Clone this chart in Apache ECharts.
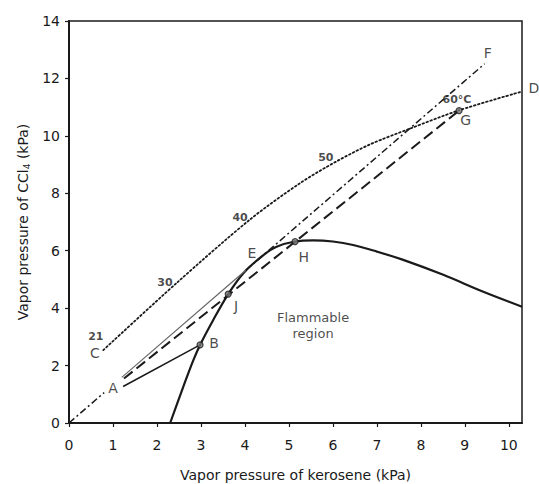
<!DOCTYPE html>
<html>
<head>
<meta charset="utf-8">
<script src="https://cdn.jsdelivr.net/npm/echarts@6/dist/echarts.min.js"></script>
<style>
html,body{margin:0;padding:0;background:#fff;}
#chart{width:539px;height:484px;}
</style>
</head>
<body>
<div id="chart"></div>
<script>
// ---- Data (kPa) ----
const xTicks = [0,1,2,3,4,5,6,7,8,9,10];
const yTicks = [0,2,4,6,8,10,12,14];
const flammableBoundary = [[2.3,0],[2.6,1.27],[2.83,2.2],[2.98,2.72],[3.28,3.59],[3.62,4.49],[3.96,5.21],[4.42,5.85],[4.72,6.14],[5.14,6.32],[5.55,6.36],[6.0,6.32],[6.46,6.2],[7.0,5.97],[7.6,5.68],[8.51,5.16],[9.42,4.57],[10.3,4.05]];
const vaporCurveCD = [[0.78,2.54],[2.45,4.88],[4.11,7.08],[5.25,8.35],[6.07,9.1],[6.84,9.7],[7.75,10.25],[8.85,10.88],[10.29,11.54]];
const lineOA = [[0,0],[0.8,1.06]];
const lineAE = [[1.2,1.59],[4.02,5.32]];
const lineEF = [[4.02,5.32],[9.45,12.51]];
const lineAG = [[1.25,1.55],[8.87,10.88]];
const lineAB = [[1.23,1.27],[2.98,2.72]];
const markedPoints = [[2.98,2.72],[3.62,4.49],[5.14,6.32],[8.87,10.88]];
const letterLabels = [['A',1.0,1.22],['B',3.3,2.79],['C',0.59,2.44],['D',10.57,11.67],['E',4.16,5.92],['F',9.52,12.89],['G',9.02,10.56],['H',5.34,5.78],['J',3.8,4.08]];
const tempLabels = [['21',0.61,3.0],['30',2.18,4.88],['40',3.89,7.14],['50',5.84,9.23],['60°C',8.82,11.25]];
const regionLabel = [['Flammable\nregion',5.55,3.38]];

const FONT = 'DejaVu Sans';
const INK = '#1a1a1a';

function labelSeries(arr, size, weight) {
  return {
    type: 'scatter', clip: false, silent: true, z: 10,
    symbolSize: 1, itemStyle: {color: 'rgba(0,0,0,0)'},
    data: arr.map(a => ({name: a[0], value: [a[1], a[2]]})),
    label: {show: true, position: 'inside', formatter: p => p.name,
      fontFamily: FONT, fontSize: size, fontWeight: weight, color: INK, lineHeight: size + 3, align: 'center'}
  };
}
function lineSeries(data, opts) {
  return Object.assign({
    type: 'line', data: data, showSymbol: false, symbol: 'none', silent: true, clip: false,
    lineStyle: {color: INK, width: 1.5}
  }, opts);
}

const chart = echarts.init(document.getElementById('chart'), null, {renderer: 'svg'});
chart.setOption({
  animation: false,
  backgroundColor: '#fff',
  grid: {left: 69, right: 17, top: 21, bottom: 61, outerBoundsMode: 'none', containLabel: false,
    show: true, borderColor: INK, borderWidth: 1.5},
  xAxis: {
    type: 'value', min: xTicks[0], max: 10.3, interval: 1,
    axisLine: {show: true, lineStyle: {color: INK, width: 2}},
    axisTick: {show: true, length: 4, lineStyle: {color: INK, width: 1.2}},
    axisLabel: {fontFamily: FONT, fontSize: 14, color: INK, margin: 15, showMaxLabel: false,
      formatter: v => xTicks.indexOf(v) >= 0 ? String(v) : ''},
    splitLine: {show: false},
    name: 'Vapor pressure of kerosene (kPa)', nameLocation: 'middle', nameGap: 45,
    nameTextStyle: {fontFamily: FONT, fontSize: 14, color: INK}
  },
  yAxis: {
    type: 'value', min: yTicks[0], max: yTicks[yTicks.length-1], interval: 2,
    axisLine: {show: true, lineStyle: {color: INK, width: 2}},
    axisTick: {show: true, length: 4, lineStyle: {color: INK, width: 1.2}},
    axisLabel: {fontFamily: FONT, fontSize: 14, color: INK, margin: 9},
    splitLine: {show: false},
    name: 'Vapor pressure of CCl{sub|4} (kPa)', nameLocation: 'middle', nameGap: 38,
    nameTextStyle: {fontFamily: FONT, fontSize: 14, color: INK,
      rich: {sub: {fontFamily: FONT, fontSize: 9, color: INK, verticalAlign: 'bottom', padding: [8,0,0,0]}}}
  },
  series: [
    lineSeries(flammableBoundary, {smooth: 0.35, lineStyle: {color: INK, width: 2.2}}),
    lineSeries(vaporCurveCD, {smooth: 0.3, lineStyle: {color: INK, width: 1.8, type: [1.6, 2.6], cap: 'round'}}),
    lineSeries(lineOA, {lineStyle: {color: INK, width: 1.5, type: [7, 3, 2, 3]}}),
    lineSeries(lineAE, {lineStyle: {color: '#666', width: 1.2}}),
    lineSeries(lineEF, {lineStyle: {color: INK, width: 1.5, type: [7, 3, 2, 3]}}),
    lineSeries(lineAG, {lineStyle: {color: INK, width: 2, type: [11, 5]}}),
    lineSeries(lineAB, {lineStyle: {color: INK, width: 1.5}}),
    {type: 'scatter', data: markedPoints, symbol: 'circle', symbolSize: 6, z: 5, silent: true,
      itemStyle: {color: '#777', borderColor: INK, borderWidth: 1.2}},
    labelSeries(letterLabels, 14, 'normal'),
    labelSeries(tempLabels, 11, 'bold'),
    labelSeries(regionLabel, 13, 'normal')
  ]
});
</script>
</body>
</html>
